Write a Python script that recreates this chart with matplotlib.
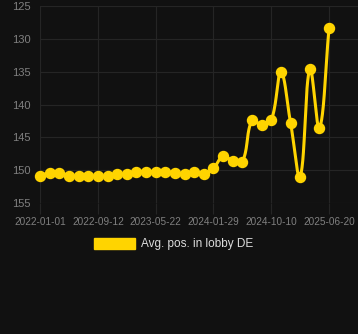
import numpy as np
import matplotlib
matplotlib.use('Agg')
import matplotlib.pyplot as plt
from matplotlib.patches import Patch

# Data (average lobby position, lower is better)
positions = [150.9, 150.35, 150.35, 150.9, 150.9, 150.9, 150.95, 150.9, 150.6, 150.6,
             150.2, 150.2, 150.2, 150.2, 150.4, 150.6, 150.2, 150.5, 149.7, 147.8,
             148.6, 148.7, 142.4, 143.1, 142.4, 135.1, 142.8, 151.0, 134.6, 143.6,
             128.3]
tick_labels = ['2022-01-01', '2022-09-12', '2023-05-22', '2024-01-29', '2024-10-10', '2025-06-20']
tick_every = 6
series_name = 'Avg. pos. in lobby DE'

bg = '#111111'
grid_c = '#252525'
text_c = '#808080'
gold = '#FFD400'

plt.rcParams['font.family'] = ['Liberation Sans', 'DejaVu Sans']

fig = plt.figure(figsize=(3.58, 3.34), dpi=100, facecolor=bg)
ax = fig.add_axes([0.112, 0.392, 0.888, 0.590], facecolor=bg)

x = np.arange(len(positions))
y = np.array(positions, dtype=float)
ax.set_xlim(0, 33)
ax.set_ylim(155, 125)

# smooth curve like Chart.js tension spline, distances in pixel space
bbox = ax.get_window_extent()
sx = bbox.width / 33.0
sy = bbox.height / 30.0
px, py = x * sx, y * sy
t = 0.4
cp_prev, cp_next = [], []
n = len(px)
for i in range(n):
    p0 = (px[max(i - 1, 0)], py[max(i - 1, 0)])
    p1 = (px[i], py[i])
    p2 = (px[min(i + 1, n - 1)], py[min(i + 1, n - 1)])
    d01 = np.hypot(p1[0] - p0[0], p1[1] - p0[1])
    d12 = np.hypot(p2[0] - p1[0], p2[1] - p1[1])
    tot = d01 + d12
    s01 = d01 / tot if tot else 0
    s12 = d12 / tot if tot else 0
    fa, fb = t * s01, t * s12
    cp_prev.append((p1[0] - fa * (p2[0] - p0[0]), p1[1] - fa * (p2[1] - p0[1])))
    cp_next.append((p1[0] + fb * (p2[0] - p0[0]), p1[1] + fb * (p2[1] - p0[1])))

cx, cy = [], []
tt = np.linspace(0, 1, 30)
for i in range(n - 1):
    a = np.array([px[i], py[i]])
    b = np.array(cp_next[i])
    c = np.array(cp_prev[i + 1])
    d = np.array([px[i + 1], py[i + 1]])
    seg = ((1 - tt) ** 3)[:, None] * a + (3 * (1 - tt) ** 2 * tt)[:, None] * b \
        + (3 * (1 - tt) * tt ** 2)[:, None] * c + (tt ** 3)[:, None] * d
    cx.extend(seg[:, 0])
    cy.extend(seg[:, 1])
cx = np.array(cx) / sx
cy = np.array(cy) / sy

ax.plot(cx, cy, color=gold, lw=2.2, clip_on=False, zorder=3)
ax.plot(x, y, 'o', color=gold, ms=7.2, clip_on=False, zorder=4)

ax.set_yticks([125, 130, 135, 140, 145, 150, 155])
ax.set_xticks(x[::tick_every])
ax.set_xticklabels(tick_labels)
ax.grid(True, color=grid_c, lw=0.8)
ax.set_axisbelow(True)
for s in ax.spines.values():
    s.set_visible(False)
ax.tick_params(axis='y', length=0, pad=7, labelsize=8, labelcolor=text_c)
ax.tick_params(axis='x', length=8, color=grid_c, pad=2, labelsize=7.2, labelcolor=text_c)

handle = Patch(facecolor=gold, edgecolor=gold)
fig.legend([handle], [series_name], loc='center', bbox_to_anchor=(0.485, 0.269),
           frameon=False, fontsize=8.5, labelcolor='#dddddd',
           handlelength=3.4, handleheight=1.0, handletextpad=0.5)

fig.savefig('out.png', dpi=100, facecolor=bg)
